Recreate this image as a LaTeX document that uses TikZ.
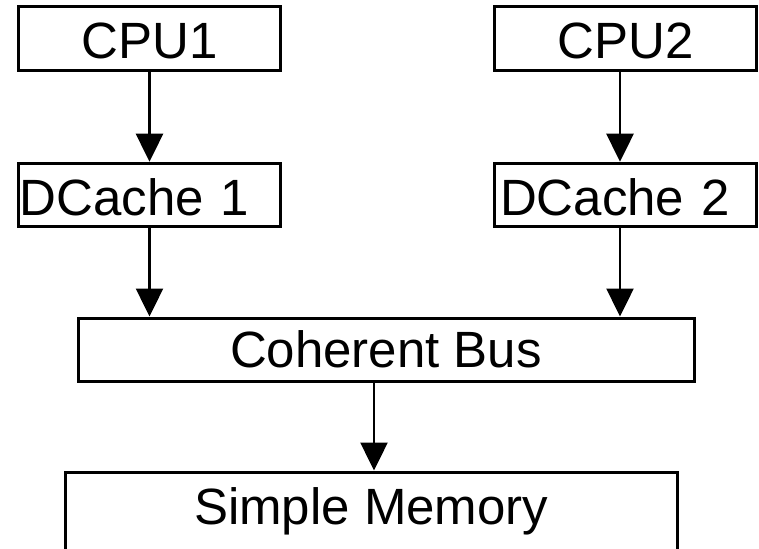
\documentclass[tikz,border=0pt]{standalone}
\usepackage{fontspec}
\setmainfont{Liberation Sans}
\usetikzlibrary{arrows.meta}
\begin{document}
\begin{tikzpicture}[x=1pt,y=-1pt,
  box/.style={draw=black, line width=3pt, rectangle, inner sep=0pt,
    font=\fontsize{51}{60}\selectfont, text height=40pt, text depth=0pt},
  unit/.style={box, minimum width=262pt, minimum height=63.5pt},
  cachebox/.style={unit, align=left},
  flow/.style={line width=2.5pt, -{Triangle[width=27pt,length=28pt]}}]
\path[use as bounding box, clip] (0,0) rectangle (759,548);

% processors
\node[unit] (cpu1) at (149.5,38.75) {CPU1};
\node[unit] (cpu2) at (625.5,38.75) {CPU2};

% data caches
\node[cachebox, text width=260pt] (dc1) at (149.5,195) {DCache 1};
\node[cachebox, text width=251pt] (dc2) at (625.5,195) {DCache 2};

% shared bus
\node[box, minimum width=616pt, minimum height=63pt, text height=36.5pt] (bus) at (386,349.5) {Coherent Bus};

% memory (runs past the lower edge)
\node[box, minimum width=611.5pt, text height=52pt, text depth=130pt, anchor=north] (mem) at (371.25,470.5) {Simple Memory};

% connections
\draw[flow] (cpu1.south) -- (dc1.north);
\draw[flow] ([xshift=-5.5pt]cpu2.south) -- ([xshift=-5.5pt]dc2.north);
\draw[flow] (dc1.south) -- (dc1.south |- bus.north);
\draw[flow] ([xshift=-5.5pt]dc2.south) -- ([xshift=-5.5pt]dc2.south |- bus.north);
\draw[flow] ([xshift=-12pt]bus.south) -- ([xshift=-12pt]bus.south |- mem.north);
\end{tikzpicture}
\end{document}
